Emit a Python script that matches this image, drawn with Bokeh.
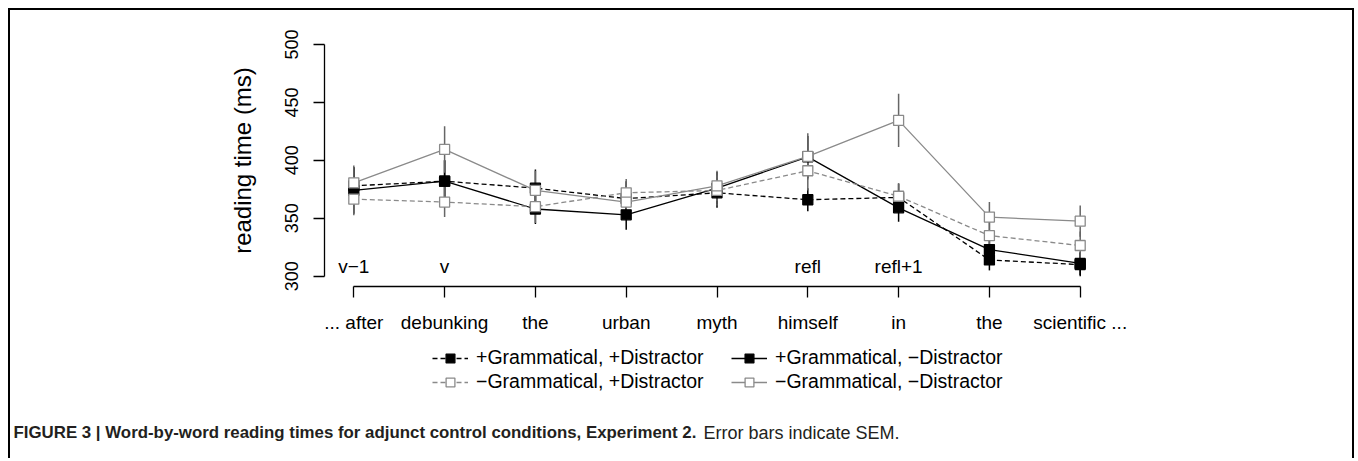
from bokeh.plotting import figure
from bokeh.models import Range1d, FixedTicker, Legend, LegendItem, Label, LinearAxis
from bokeh.core.properties import value
from bokeh.embed import file_html
from bokeh.resources import INLINE

# ---------------- data ----------------
words = ["... after", "debunking", "the", "urban", "myth", "himself", "in", "the", "scientific ..."]
regions = ["v\u22121", "v", "", "", "", "refl", "refl+1", "", ""]
positions = list(range(len(words)))

gram_distr = [378, 382, 376, 367, 372, 366, 368, 314, 310]        # +Grammatical, +Distractor
gram_nodistr = [374, 382, 358, 353, 376, 403, 359, 323, 311]      # +Grammatical, -Distractor
ungram_distr = [366.5, 364, 360, 372, 374, 391, 369, 335, 326.5]  # -Grammatical, +Distractor
ungram_nodistr = [380.6, 409.4, 374, 364, 378, 403.4, 434.5, 351, 347.5]  # -Grammatical, -Distractor

sem_gram_distr = [16, 18, 16, 15, 13, 10, 12, 9, 10]
sem_gram_nodistr = [20, 18, 13, 13, 14, 18, 12, 12, 10]
sem_ungram_distr = [14, 13, 14, 12, 13, 17, 11, 12, 12]
sem_ungram_nodistr = [15, 20, 17, 15, 13, 20, 23, 13, 13.5]

labels = ["+Grammatical, +Distractor", "+Grammatical, \u2212Distractor",
          "\u2212Grammatical, +Distractor", "\u2212Grammatical, \u2212Distractor"]
y_ticks = [300, 350, 400, 450, 500]

FONT = "Liberation Sans"
GRAY = "#8a8a8a"

W, H = 1346, 450
p = figure(width=W, height=H, output_backend="svg", toolbar_location=None,
           x_range=Range1d(-3.781, 11.043), y_range=Range1d(140.9, 529.35),
           min_border=0, x_axis_location=None, y_axis_location=None)
p.outline_line_color = None
p.grid.visible = False
p.styles = {"margin-left": "8px", "margin-top": "8px",
            "border-top": "2px solid black", "border-left": "2px solid black",
            "border-right": "2px solid black"}

yax = LinearAxis(bounds=(300, 500), ticker=FixedTicker(ticks=y_ticks), fixed_location=-0.3227)
yax.axis_label = "reading time (ms)"
yax.axis_label_text_font = FONT
yax.axis_label_text_font_size = "24px"
yax.axis_label_text_font_style = "normal"
yax.axis_label_text_color = "black"
yax.axis_label_standoff = 26
yax.major_label_text_font = FONT
yax.major_label_text_font_size = "18px"
yax.major_label_text_color = "black"
yax.major_label_orientation = "vertical"
yax.major_label_standoff = 16
yax.major_tick_out = 11
yax.major_tick_in = 0
yax.minor_tick_line_color = None
yax.axis_line_width = 1.3
yax.major_tick_line_width = 1.3
p.add_layout(yax, "left")

xax = LinearAxis(bounds=(0, 8), ticker=FixedTicker(ticks=positions), fixed_location=291.1)
xax.major_label_overrides = {i: w for i, w in zip(positions, words)}
xax.major_label_text_font = FONT
xax.major_label_text_font_size = "19px"
xax.major_label_text_color = "black"
xax.major_label_standoff = 14
xax.major_tick_out = 11
xax.major_tick_in = 0
xax.minor_tick_line_color = None
xax.axis_line_width = 1.3
xax.major_tick_line_width = 1.3
p.add_layout(xax, "below")

series = [
    (gram_distr, sem_gram_distr, "black", "black", "5 3", "black"),
    (gram_nodistr, sem_gram_nodistr, "black", "black", "solid", "black"),
    (ungram_distr, sem_ungram_distr, GRAY, "white", "5 3", "#666666"),
    (ungram_nodistr, sem_ungram_nodistr, GRAY, "white", "solid", "#666666"),
]

for (vals, sem, col, fill, dash, ecol) in series:
    lo = [v - s for v, s in zip(vals, sem)]
    hi = [v + s for v, s in zip(vals, sem)]
    p.segment(x0=positions, y0=lo, x1=positions, y1=hi, line_color=ecol, line_width=1.5)

items = []
for (vals, sem, col, fill, dash, ecol), lab in zip(series, labels):
    ln = p.line(positions, vals, line_color=col, line_width=1.3, line_dash=dash)
    sc = p.scatter(positions, vals, marker="square", size=10, line_color=col,
                   fill_color=fill, line_width=1.3)
    items.append(LegendItem(label=lab, renderers=[ln, sc]))

p.text(x=positions, y=[308.4] * len(positions), text=regions, text_font=value(FONT),
       text_font_size="19px", text_align="center", text_baseline="middle", text_color="black")

for idx, xloc in ((0, 422), (1, 721)):
    lg = Legend(items=[items[idx], items[idx + 2]], location=(xloc, 67), padding=0, margin=0,
                border_line_color=None, background_fill_alpha=0, glyph_width=36,
                glyph_height=22, label_height=22, label_standoff=8, spacing=1,
                label_text_font=FONT, label_text_font_size="19.5px",
                label_text_color="black")
    p.add_layout(lg, "center")

cap1 = Label(x=3, y=28, x_units="screen", y_units="screen",
             text="FIGURE 3 | Word-by-word reading times for adjunct control conditions, Experiment 2.",
             text_font=FONT, text_font_size="16.85px", text_font_style="bold",
             text_baseline="middle", text_color="#231f20")
cap2 = Label(x=3 + 690, y=28, x_units="screen", y_units="screen",
             text="Error bars indicate SEM.", text_font=FONT, text_font_size="18px",
             text_baseline="middle", text_color="#231f20")
p.add_layout(cap1)
p.add_layout(cap2)

open("out.html", "w").write(file_html(p, INLINE))
